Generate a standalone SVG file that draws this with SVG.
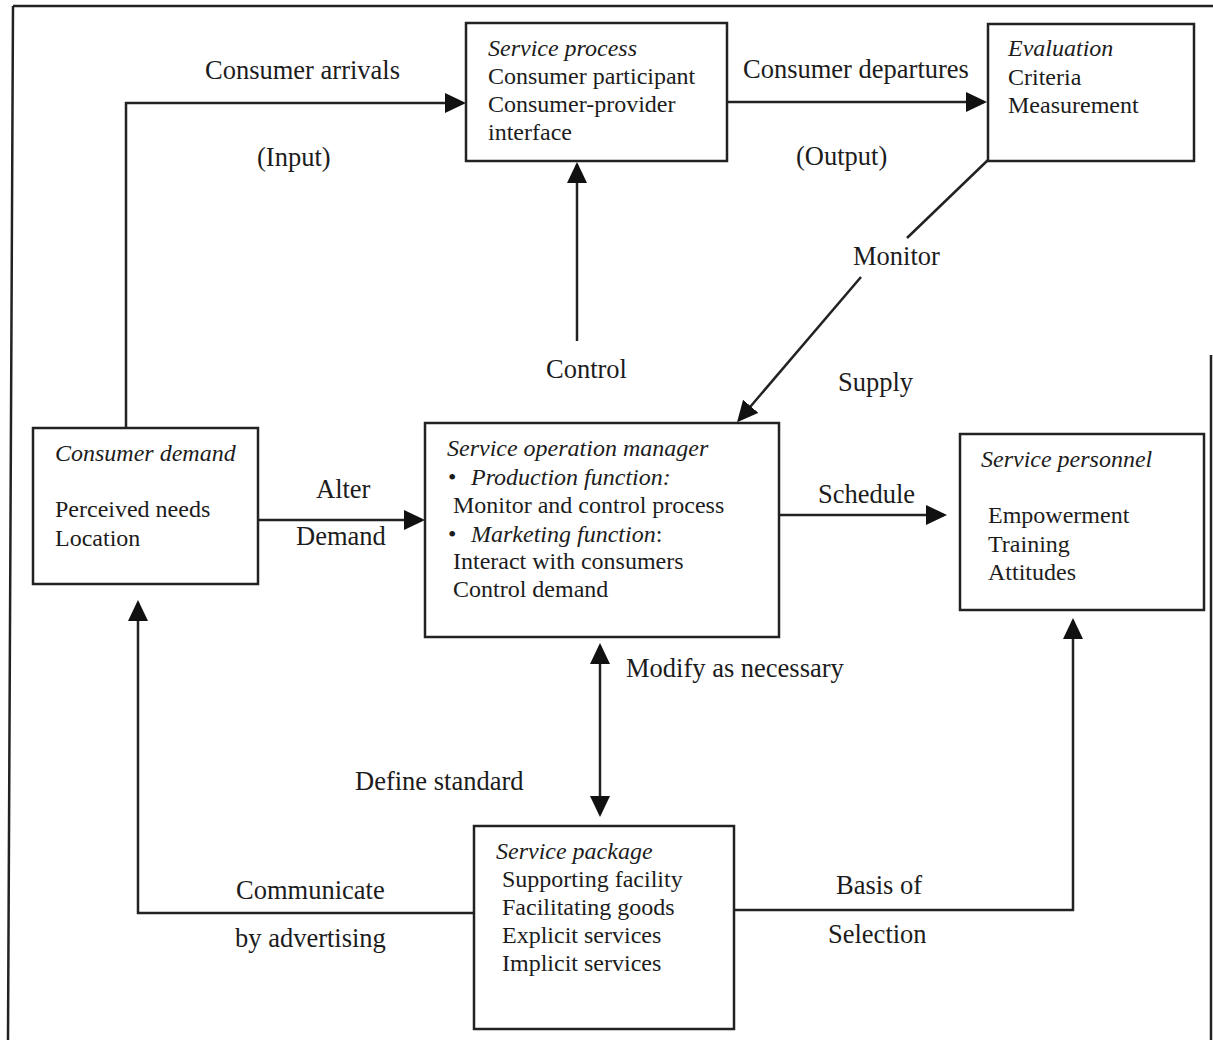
<svg xmlns="http://www.w3.org/2000/svg" width="1213" height="1040" viewBox="0 0 1213 1040">
<style>
text{font-family:"Liberation Serif","Times New Roman",serif;fill:#1c1c1c}
.bx{font-size:24px}
.lbl{font-size:26.5px}
.it{font-style:italic}
.box{fill:none;stroke:#222;stroke-width:2.5}
.con{fill:none;stroke:#222;stroke-width:2.5}
.frame{fill:none;stroke:#222;stroke-width:2.5}
</style>
<defs>
<marker id="ah" markerUnits="userSpaceOnUse" markerWidth="24" markerHeight="22" refX="18" refY="10" orient="auto-start-reverse" viewBox="0 0 24 22">
<path d="M0,0 L21,10 L0,20 z" fill="#111"/>
</marker>
</defs>
<rect width="1213" height="1040" fill="#fff"/>
<g id="frame">
<path class="frame" d="M13,6 H1213 M13,6 L8,1040 M1211,355 V1040"/>
</g>
<g id="connectors">
<path class="con" d="M126,427 V103 H463" marker-end="url(#ah)"/>
<path class="con" d="M727,102 H984" marker-end="url(#ah)"/>
<path class="con" d="M577,341 V165" marker-end="url(#ah)"/>
<path class="con" d="M988,160 L907,238"/>
<path class="con" d="M861,277 L739,420" marker-end="url(#ah)"/>
<path class="con" d="M258,520 H422" marker-end="url(#ah)"/>
<path class="con" d="M780,515 H944" marker-end="url(#ah)"/>
<path class="con" d="M600,646 V814" marker-start="url(#ah)" marker-end="url(#ah)"/>
<path class="con" d="M474,913 H138 V603" marker-end="url(#ah)"/>
<path class="con" d="M735,910 H1073 V621" marker-end="url(#ah)"/>
<text class="lbl" x="205" y="79">Consumer arrivals</text>
<text class="lbl" x="257" y="166">(Input)</text>
<text class="lbl" x="743" y="78">Consumer departures</text>
<text class="lbl" x="796" y="165">(Output)</text>
<text class="lbl" x="853" y="265">Monitor</text>
<text class="lbl" x="546" y="378">Control</text>
<text class="lbl" x="838" y="391">Supply</text>
<text class="lbl" x="316" y="498">Alter</text>
<text class="lbl" x="296" y="545">Demand</text>
<text class="lbl" x="818" y="503">Schedule</text>
<text class="lbl" x="626" y="677">Modify as necessary</text>
<text class="lbl" x="355" y="790">Define standard</text>
<text class="lbl" x="236" y="899">Communicate</text>
<text class="lbl" x="235" y="947">by advertising</text>
<text class="lbl" x="836" y="894">Basis of</text>
<text class="lbl" x="828" y="943">Selection</text>
</g>
<g id="service-process">
<rect class="box" x="466" y="23" width="261" height="138"/>
<text class="bx it" x="488" y="56">Service process</text>
<text class="bx" x="488" y="84">Consumer participant</text>
<text class="bx" x="488" y="112">Consumer-provider</text>
<text class="bx" x="488" y="140">interface</text>
</g>
<g id="evaluation">
<rect class="box" x="988" y="24" width="206" height="137"/>
<text class="bx it" x="1008" y="56">Evaluation</text>
<text class="bx" x="1008" y="85">Criteria</text>
<text class="bx" x="1008" y="113">Measurement</text>
</g>
<g id="consumer-demand">
<rect class="box" x="33" y="428" width="225" height="156"/>
<text class="bx it" x="55" y="461">Consumer demand</text>
<text class="bx" x="55" y="517">Perceived needs</text>
<text class="bx" x="55" y="546">Location</text>
</g>
<g id="service-operation-manager">
<rect class="box" x="425" y="423" width="354" height="214"/>
<text class="bx it" x="447" y="456">Service operation manager</text>
<text class="bx" x="448" y="485">•<tspan class="it" x="471">Production function:</tspan></text>
<text class="bx" x="453" y="513">Monitor and control process</text>
<text class="bx" x="448" y="542">•<tspan class="it" x="471">Marketing function</tspan>:</text>
<text class="bx" x="453" y="569">Interact with consumers</text>
<text class="bx" x="453" y="597">Control demand</text>
</g>
<g id="service-personnel">
<rect class="box" x="960" y="434" width="244" height="176"/>
<text class="bx it" x="981" y="467">Service personnel</text>
<text class="bx" x="988" y="523">Empowerment</text>
<text class="bx" x="988" y="552">Training</text>
<text class="bx" x="988" y="580">Attitudes</text>
</g>
<g id="service-package">
<rect class="box" x="474" y="826" width="260" height="203"/>
<text class="bx it" x="496" y="859">Service package</text>
<text class="bx" x="502" y="887">Supporting facility</text>
<text class="bx" x="502" y="915">Facilitating goods</text>
<text class="bx" x="502" y="943">Explicit services</text>
<text class="bx" x="502" y="971">Implicit services</text>
</g>
</svg>
